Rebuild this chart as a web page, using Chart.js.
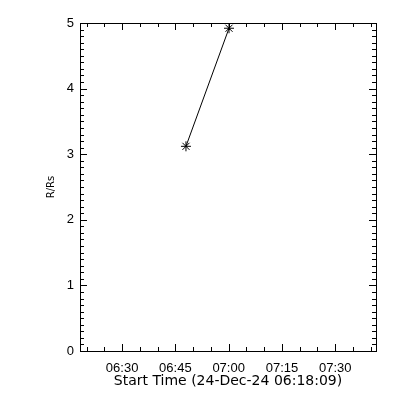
<!DOCTYPE html>
<html>
<head>
<meta charset="utf-8">
<script src="https://cdn.jsdelivr.net/npm/chart.js@4"></script>
<style>
  html, body { margin: 0; padding: 0; background: #fff; }
  #wrap { width: 400px; height: 400px; }
</style>
</head>
<body>
<div id="wrap"><canvas id="cmeCanvas" width="400" height="400"></canvas></div>
<script>
// times are seconds since midnight
const startTime = 22689;          // 06:18:09
const timeSpan = 5000;
const pointTimes = [24479, 25206];
const heights = [3.12, 4.92];
const xTickValues = [23400, 24300, 25200, 26100, 27000];
const xTickLabels = ["06:30", "06:45", "07:00", "07:15", "07:30"];
const yTickValues = [0, 1, 2, 3, 4, 5];

const TICKFONT = { family: "'Liberation Sans', Arial, sans-serif", size: 13 };

function fmt(v) {
  const i = xTickValues.indexOf(v);
  return i >= 0 ? xTickLabels[i] : "";
}

// box + inward ticks on all four sides, like an IDL plot
const frame = {
  id: "frame",
  afterDatasetsDraw(chart) {
    const ctx = chart.ctx;
    const a = chart.chartArea;
    const xs = chart.scales.x, ys = chart.scales.y;
    ctx.save();
    ctx.strokeStyle = "#000";
    ctx.lineWidth = 1;
    ctx.strokeRect(Math.round(a.left) + 0.5, Math.round(a.top) + 0.5,
      Math.round(a.right - a.left), Math.round(a.bottom - a.top));
    ctx.beginPath();
    // x ticks every 5 minutes, major every 15
    for (let t = Math.ceil(xs.min / 300) * 300; t <= xs.max; t += 300) {
      const px = Math.round(xs.getPixelForValue(t)) + 0.5;
      const len = (t % 900 === 0) ? 7 : 4;
      ctx.moveTo(px, a.bottom); ctx.lineTo(px, a.bottom - len);
      ctx.moveTo(px, a.top); ctx.lineTo(px, a.top + len);
    }
    // y ticks every 0.1, major every 1
    for (let k = 0; k <= 50; k++) {
      const v = k / 10;
      const py = Math.round(ys.getPixelForValue(v)) + 0.5;
      const len = (k % 10 === 0) ? 7 : 4;
      ctx.moveTo(a.left, py); ctx.lineTo(a.left + len, py);
      ctx.moveTo(a.right, py); ctx.lineTo(a.right - len, py);
    }
    ctx.stroke();
    ctx.restore();
  }
};

const data = {
  datasets: [
    {
      label: "R/Rs",
      data: pointTimes.map((t, i) => ({ x: t, y: heights[i] })),
      borderColor: "#000",
      backgroundColor: "#000",
      borderWidth: 1,
      pointStyle: "star",
      pointRadius: 5,
      pointBorderWidth: 1,
      pointBorderColor: "#000",
      showLine: true,
      tension: 0,
    },
  ],
};

const config = {
  type: "scatter",
  data: data,
  options: {
    responsive: false,
    animation: false,
    devicePixelRatio: 1,
    layout: { padding: { left: 0, top: 23, right: 24, bottom: 0 } },
    plugins: { legend: { display: false }, tooltip: { enabled: false } },
    scales: {
      x: {
        type: "linear",
        min: startTime,
        max: startTime + timeSpan,
        grid: { display: false, drawTicks: false },
        border: { display: false },
        afterFit(scale) { scale.height = 49; },
        afterBuildTicks(scale) { scale.ticks = xTickValues.map(v => ({ value: v })); },
        ticks: {
          color: "#000",
          font: TICKFONT,
          padding: 10,
          maxRotation: 0,
          autoSkip: false,
          callback: (v) => fmt(v),
        },
        title: {
          display: true,
          text: "Start Time (24-Dec-24 06:18:09)",
          color: "#000",
          font: { family: "'DejaVu Sans', sans-serif", size: 14 },
          padding: { top: 0, bottom: 10 },
        },
      },
      y: {
        type: "linear",
        min: 0,
        max: 5,
        grid: { display: false, drawTicks: false },
        border: { display: false },
        afterFit(scale) { scale.width = 80; },
        afterBuildTicks(scale) { scale.ticks = yTickValues.map(v => ({ value: v })); },
        ticks: {
          color: "#000",
          font: TICKFONT,
          padding: 6,
        },
        title: {
          display: true,
          text: "R/Rs",
          color: "#000",
          font: { family: "'DejaVu Sans', sans-serif", size: 10 },
          padding: { top: 45, bottom: 0 },
        },
      },
    },
  },
  plugins: [frame],
};

const canvas = document.getElementById("cmeCanvas");
if (canvas) {
  new Chart(canvas.getContext("2d"), config);
} else {
  console.error("no canvas");
}
</script>
</body>
</html>
